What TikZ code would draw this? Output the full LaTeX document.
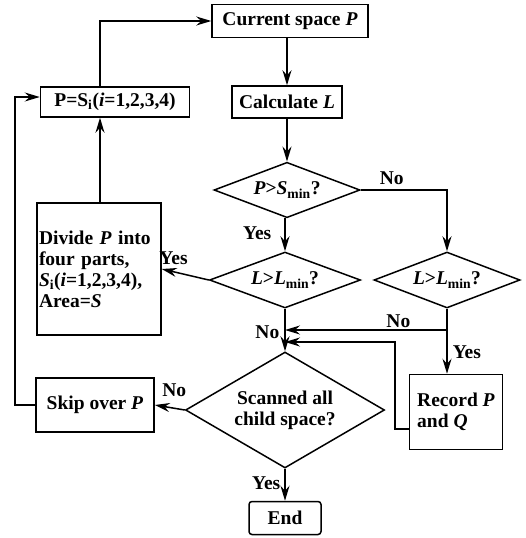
\documentclass[tikz,border=0pt]{standalone}
\usepackage{fontspec}
\setmainfont{Liberation Serif}
\usetikzlibrary{positioning,arrows.meta,shapes.geometric}
\newcommand{\vP}{\textit{P}}
\begin{document}
\begin{tikzpicture}[x=1pt, y=-1pt, line width=1.5pt,
  box/.style={draw, inner sep=2pt, font=\fontsize{19.5}{21}\selectfont\bfseries},
  dia/.style={draw, diamond, aspect=1.7, inner sep=0pt, font=\fontsize{19.5}{21}\selectfont\bfseries},
  lab/.style={font=\fontsize{19.5}{21}\selectfont\bfseries, inner sep=1pt},
  >={Stealth[length=15pt, width=9pt, inset=5pt]}]
\useasboundingbox (0,0) rectangle (526,538);
\node[box, minimum width=156pt, minimum height=33pt] (cur) at (290,21) {Current space \vP};
\node[box, minimum width=110pt, minimum height=32pt] (calc) at (287,102) {Calculate \textit{L}};
\node[box, minimum width=149pt, minimum height=30pt] (pset) at (115,102) {P=S\textsubscript{i}(\textit{i}=1,2,3,4)};
\node[dia, minimum width=146pt, minimum height=54pt] (dsmin) at (287,190) {\vP>\textit{S}\textsubscript{min}?};
\node[dia, minimum width=151pt, minimum height=55pt] (dlmin) at (285,280) {\textit{L}>\textit{L}\textsubscript{min}?};
\node[dia, minimum width=146pt, minimum height=54pt] (dlmin2) at (447,280) {\textit{L}>\textit{L}\textsubscript{min}?};
\node[box, minimum width=124pt, minimum height=132pt, align=left, text width=120pt] (divide) at (99,269)
  {Divide \vP{} into\\ four parts,\\ \textit{S}\textsubscript{i}(\textit{i}=1,2,3,4),\\ Area=\textit{S}};
\node[dia, minimum width=199pt, minimum height=116pt, align=center] (scan) at (285,410) {Scanned all\\ child space?};
\node[box, minimum width=118pt, minimum height=54pt] (skip) at (95,405) {Skip over \vP};
\node[box, minimum width=93pt, minimum height=75pt, align=left] (rec) at (456,412) {Record \vP\\ and \textit{Q}};
\node[box, rounded corners=3pt, minimum width=72pt, minimum height=33pt] (end) at (285,518) {End};
\coordinate (jr) at (447,330); \coordinate (ja) at (285,330); \coordinate (jb) at (285,342);
\coordinate (lft) at (15,405);
% main column
\draw[->] (cur.south -| calc.north) -- (calc.north);
\draw[->] (calc) -- (dsmin);
\draw[->] (dsmin.south -| dlmin.north) -- node[lab, pos=.45, left=12pt] {Yes} (dlmin.north);
\draw[->] (dsmin.east) -| node[lab, pos=.18, above=4pt] {No} (dlmin2.north);
\draw[->] (dlmin.west) -- node[lab, above=5pt, pos=.75] {Yes} (divide.east);
\draw[->] (divide.north -| 100,0) -- (pset.south -| 100,0);
\draw[->] (pset.north -| 100,0) |- (cur.west);
\draw[->] (dlmin.south) -- node[lab, pos=.55, left=4pt] {No} (scan.north);
\draw (dlmin2.south) -- (jr);
\draw[->] (jr) -- node[lab, above=1pt, pos=.3] {No} (ja);
\draw[->] (jr) -- node[lab, right=4pt] {Yes} (rec.north -| jr);
\draw[->] ([yshift=-17pt]rec.west) -| (395,0 |- jb) -- (jb);
\draw[->] (scan.west) -- node[lab, above=10pt, pos=.35] {No} (skip.east);
\draw[->] (skip.west) -- (lft) |- ([yshift=5pt]pset.west);
\draw[->] (scan.south) -- node[lab, left=3pt, pos=.45] {Yes} (end.north);
\end{tikzpicture}
\end{document}
